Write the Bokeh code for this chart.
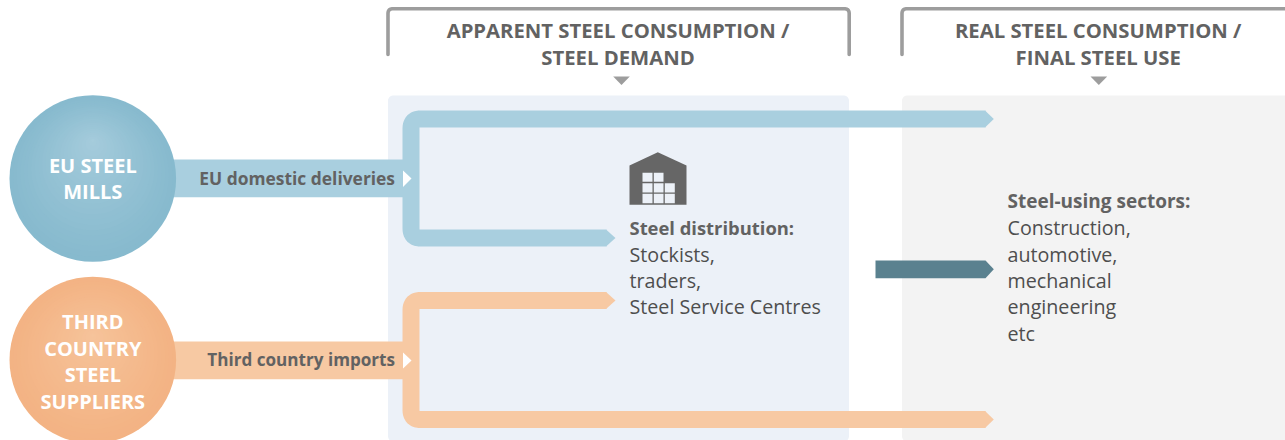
import math
from bokeh.plotting import figure
from bokeh.models import Range1d
from bokeh.core.properties import value
from bokeh.embed import file_html
from bokeh.resources import INLINE

# Texts of the diagram
header_left = ["APPARENT STEEL CONSUMPTION /", "STEEL DEMAND"]
header_right = ["REAL STEEL CONSUMPTION /", "FINAL STEEL USE"]
eu_source = ["EU STEEL", "MILLS"]
third_source = ["THIRD", "COUNTRY", "STEEL", "SUPPLIERS"]
eu_flow = "EU domestic deliveries"
third_flow = "Third country imports"
distribution_title = "Steel distribution:"
distribution_items = ["Stockists,", "traders,", "Steel Service Centres"]
sectors_title = "Steel-using sectors:"
sectors_items = ["Construction,", "automotive,", "mechanical", "engineering", "etc"]

BLUE, ORANGE, TEAL = "#A9CFDF", "#F7C9A3", "#5A818F"
GREY, TEXT = "#9D9D9D", "#626262"
PANEL_B, PANEL_G = "#ECF1F8", "#F3F3F3"
FONT = value("Open Sans")

W, H = 1285, 440
p = figure(width=W, height=H, output_backend="svg", toolbar_location=None,
           x_axis_type=None, y_axis_type=None, outline_line_color=None,
           min_border=0, border_fill_color="white", background_fill_color="white",
           x_range=Range1d(0, W), y_range=Range1d(H, 0))
p.grid.visible = False


def rounded(pts, r, n=10):
    """Polyline through pts with corners rounded at radius r."""
    out = [pts[0]]
    for a, b, c in zip(pts, pts[1:], pts[2:]):
        d1 = (a[0] - b[0], a[1] - b[1])
        d2 = (c[0] - b[0], c[1] - b[1])
        l1, l2 = math.hypot(*d1), math.hypot(*d2)
        u1 = (d1[0] / l1, d1[1] / l1)
        u2 = (d2[0] / l2, d2[1] / l2)
        for i in range(n + 1):
            t = i / n
            s = (1 - t) ** 2
            e = t ** 2
            out.append((b[0] + r * (u1[0] * s + u2[0] * e),
                        b[1] + r * (u1[1] * s + u2[1] * e)))
    out.append(pts[-1])
    return [q[0] for q in out], [q[1] for q in out]


def panel(x0, x1, y0, y1, col, r=6):
    pts = [(x0 + r, y0), (x1, y0), (x1, y1), (x0, y1), (x0, y0), (x0 + r, y0)]
    xs, ys = rounded(pts, r)
    p.patch(xs, ys, fill_color=col, line_color=None)


def blob(cx, cy, r, hy, edge, centre, steps=24):
    e = [int(edge[i:i + 2], 16) for i in (1, 3, 5)]
    c = [int(centre[i:i + 2], 16) for i in (1, 3, 5)]
    for i in range(steps):
        t = i / (steps - 1)
        col = "#%02X%02X%02X" % tuple(round(a + (b - a) * t ** 1.15) for a, b in zip(e, c))
        p.circle([cx], [cy + (hy - cy) * t], radius=r * (1 - t) + (1.5 if i == steps - 1 else 0),
                 fill_color=col, line_color=None)


def tri(xs, ys, col):
    p.patch(xs, ys, fill_color=col, line_color=None)


def arm(pts, col):
    xs, ys = rounded(pts, 9.5)
    p.line(xs, ys, line_color=col, line_width=17, line_cap="butt", line_join="round")


def label(x, y, s, size, bold=True, col=TEXT, align="left", font=FONT):
    p.text([x], [y - 8], text=[s], text_font=font, text_font_size=f"{size}px",
           text_font_style="bold" if bold else "normal", text_color=col,
           text_align=align, text_baseline="alphabetic")


# panels
panel(387.5, 848.5, 95, 441, PANEL_B)
panel(901.5, 1295, 95, 441, PANEL_G)

# header brackets
for pts in ([(387.5, 54), (387.5, 8.2), (848.7, 8.2), (848.7, 54)],
            [(901.5, 54), (901.5, 8.2), (1295, 8.2)]):
    xs, ys = rounded(pts, 5)
    p.line(xs, ys, line_color=GREY, line_width=3.6, line_cap="round", line_join="round")
tri([612.7, 629.3, 621], [76, 76, 84.5], GREY)
tri([1090, 1106.7, 1098.3], [76, 76, 84.5], GREY)

# connector bars
p.quad(left=[170], right=[403], top=[159], bottom=[196.8], fill_color=BLUE, line_color=None)
p.quad(left=[170], right=[403], top=[341], bottom=[378.8], fill_color=ORANGE, line_color=None)

# blue and orange routes
arm([(985, 118.5), (410.5, 118.5), (410.5, 237.5), (606, 237.5)], BLUE)
arm([(606, 300), (410.5, 300), (410.5, 419), (985, 419)], ORANGE)
tri([984.5, 993.3, 984.5], [110, 118.5, 127], BLUE)
tri([605.5, 615, 605.5], [229, 237.5, 246], BLUE)
tri([605.5, 615, 605.5], [291.5, 300, 308.5], ORANGE)
tri([984.5, 993.3, 984.5], [410.5, 419, 427.5], ORANGE)
tri([402.5, 411, 402.5], [170, 178, 186.5], "white")
tri([402.5, 411, 402.5], [352, 360, 368], "white")

# dark arrow
tri([875, 985, 993.3, 985, 875], [260, 260, 268.8, 277.7, 277.7], TEAL)

# sources
blob(92.3, 178, 83.3, 140, "#87BACE", "#A6CCDC")
blob(92.3, 359.5, 83.3, 335, "#F3B384", "#F6C49B")

# warehouse icon
tri([629, 657.3, 686, 686, 629], [165, 151.7, 165, 204.3, 204.3], "#666666")
for x0, x1, y0, y1 in [(642, 652, 172.3, 181.3), (653.3, 663, 172.3, 181.3),
                       (642, 652, 182.7, 192), (653.3, 663, 182.7, 192), (664.3, 674.3, 182.7, 192),
                       (642, 652, 193.3, 202.7), (653.3, 663, 193.3, 202.7), (664.3, 674.3, 193.3, 202.7)]:
    p.quad(left=[x0], right=[x1], top=[y0], bottom=[y1], fill_color=PANEL_B, line_color=None)

# texts
for s, y in zip(header_left, (37.3, 64)):
    label(617.5, y, s, 20.3, align="center")
for s, y in zip(header_right, (37.3, 64)):
    label(1097.7, y, s, 20.3, align="center")
for s, y in zip(eu_source, (172.7, 198.7)):
    label(92.3, y, s, 20, col="white", align="center")
for s, y in zip(third_source, (329.3, 356, 382, 408.7)):
    label(92.3, y, s, 20, col="white", align="center")
label(394.5, 185, eu_flow, 17.4, align="right")
label(394.5, 366.7, third_flow, 17.1, align="right")
label(629, 235, distribution_title, 18.4)
for s, y in zip(distribution_items, (261.5, 288, 314)):
    label(629, y, s, 19.7, bold=False, col="#4E4E4E")
label(1007, 208.5, sectors_title, 19)
for s, y in zip(sectors_items, (235, 261.5, 288, 314, 341)):
    label(1007, y, s, 19.7, bold=False, col="#4E4E4E")

open("out.html", "w").write(file_html(p, INLINE))
